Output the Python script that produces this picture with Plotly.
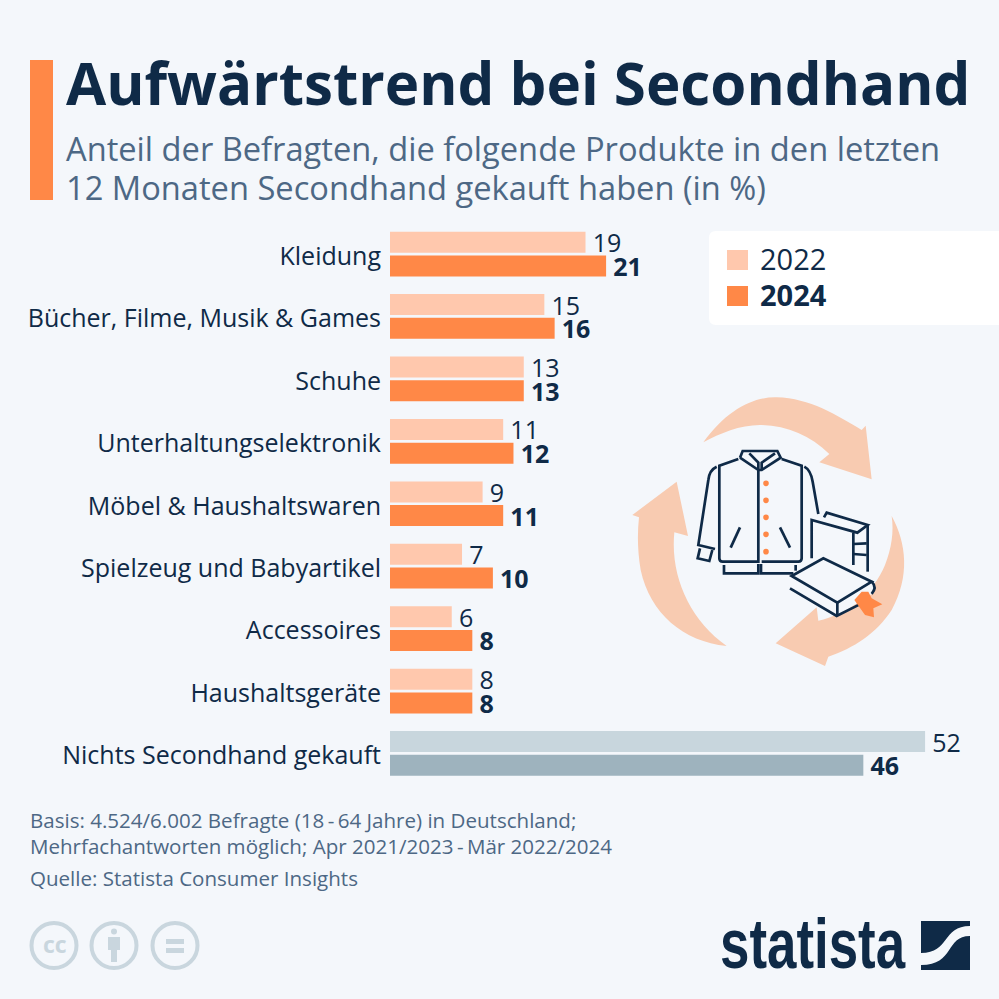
import plotly.graph_objects as go

categories = ["Kleidung", "Bücher, Filme, Musik &amp; Games", "Schuhe", "Unterhaltungselektronik",
              "Möbel &amp; Haushaltswaren", "Spielzeug und Babyartikel", "Accessoires",
              "Haushaltsgeräte", "Nichts Secondhand gekauft"]
values_2022 = [19, 15, 13, 11, 9, 7, 6, 8, 52]
values_2024 = [21, 16, 13, 12, 11, 10, 8, 8, 46]

W = 999
BG = "#F4F7FB"
NAVY = "#0F2A47"
SLATE = "#4D6885"
ORANGE = "#FF8847"
LIGHT = "#FFC8AD"
GREY1 = "#C8D6DD"
GREY2 = "#9EB3BE"
ARROW = "#F8CBB1"
ICON = "#C9D6DE"
FONT = "Open Sans"

colors_2022 = [LIGHT] * 8 + [GREY1]
colors_2024 = [ORANGE] * 8 + [GREY2]

def px(x): return x / W
def py(y): return 1 - y / W

def path(cmds, sx=1.0, ox=0.0, oy=0.0):
    out = []
    for c in cmds:
        letter, pts = c[0], c[1:]
        parts = []
        for i in range(0, len(pts), 2):
            parts.append(f"{px(ox + pts[i] * sx):.5f},{py(oy + pts[i + 1] * sx):.5f}")
        out.append(letter + " ".join(parts))
    return " ".join(out)

shapes = []
def add_path(cmds, fill=None, line=None, lw=0, **kw):
    shapes.append(dict(type="path", xref="paper", yref="paper", path=path(cmds, **kw),
                       fillcolor=fill if fill else "rgba(0,0,0,0)",
                       line=dict(color=line if line else "rgba(0,0,0,0)", width=lw)))

def add_rect(x0, y0, x1, y1, fill):
    shapes.append(dict(type="rect", xref="paper", yref="paper", x0=px(x0), x1=px(x1), y0=py(y0), y1=py(y1),
                       fillcolor=fill, line=dict(width=0)))

def add_circle(cx, cy, r, fill=None, line=None, lw=0):
    shapes.append(dict(type="circle", xref="paper", yref="paper", x0=px(cx - r), x1=px(cx + r),
                       y0=py(cy + r), y1=py(cy - r),
                       fillcolor=fill if fill else "rgba(0,0,0,0)",
                       line=dict(color=line if line else "rgba(0,0,0,0)", width=lw)))

annotations = []
def text(x, y, s, size, color, bold=False, family=FONT, anchor="left"):
    annotations.append(dict(xref="paper", yref="paper", x=px(x), y=py(y), text=s, showarrow=False,
                            xanchor=anchor, yanchor="middle", borderpad=0, borderwidth=0,
                            font=dict(size=size, color=color, family=family, weight=700 if bold else 400)))

# accent + legend box
add_rect(30, 60, 53, 200, ORANGE)
add_path([("M", 999, 231), ("L", 716, 231), ("Q", 709, 231, 709, 238), ("L", 709, 318),
          ("Q", 709, 325, 716, 325), ("L", 999, 325), ("Z",)], fill="#FFFFFF")
add_rect(727, 250, 748, 270, LIGHT)
add_rect(727, 286, 748, 306, ORANGE)

# illustration, drawn in crop coordinates
Z = dict(sx=1 / 3, ox=620, oy=380)
add_path([("M", 250, 187), ("C", 320, 90, 400, 50, 470, 52), ("C", 570, 55, 650, 105, 725, 150), ("L", 737, 137),
          ("L", 755, 298), ("L", 598, 247), ("L", 628, 222), ("C", 570, 165, 500, 137, 420, 135),
          ("C", 360, 135, 300, 160, 250, 187), ("Z",)], fill=ARROW, **Z)
add_path([("M", 320, 798), ("C", 190, 785, 90, 700, 62, 570), ("C", 52, 510, 52, 460, 57, 412), ("L", 37, 405),
          ("L", 170, 305), ("L", 204, 468), ("L", 163, 457), ("C", 150, 590, 210, 720, 320, 798), ("Z",)],
         fill=ARROW, **Z)
add_path([("M", 815, 408), ("C", 860, 490, 870, 590, 815, 690), ("C", 770, 760, 700, 805, 625, 830), ("L", 615, 858),
          ("L", 467, 790), ("L", 590, 682), ("L", 595, 722), ("C", 680, 705, 760, 640, 795, 555),
          ("C", 815, 505, 822, 455, 815, 408), ("Z",)], fill=ARROW, **Z)
# front book face hides the arrow behind it
add_path([("M", 515, 588), ("L", 610, 535), ("L", 755, 605), ("Q", 772, 622, 755, 642), ("L", 650, 708), ("L", 510, 625), ("Z",)],
         fill=BG, **Z)

jacket = [
    [("M", 360, 233), ("L", 368, 213), ("L", 472, 213), ("L", 482, 233), ("L", 425, 270), ("L", 415, 270), ("L", 360, 233)],
    [("M", 388, 220), ("L", 415, 248), ("L", 415, 270)],
    [("M", 465, 220), ("L", 425, 248), ("L", 425, 270)],
    [("M", 355, 237), ("L", 298, 257), ("L", 298, 535), ("Q", 298, 545, 308, 545), ("L", 415, 545), ("L", 415, 270)],
    [("M", 485, 237), ("L", 545, 257), ("L", 545, 535), ("Q", 545, 545, 535, 545), ("L", 425, 545)],
    [("M", 312, 555), ("L", 312, 580), ("L", 415, 580), ("L", 415, 552)],
    [("M", 423, 552), ("L", 423, 580), ("L", 520, 580)],
    [("M", 527, 555), ("L", 527, 572)],
    [("M", 290, 260), ("Q", 268, 270, 265, 300), ("L", 235, 495), ("L", 285, 507)],
    [("M", 240, 505), ("L", 233, 535), ("L", 268, 543), ("L", 277, 510)],
    [("M", 553, 260), ("Q", 572, 270, 578, 305), ("L", 595, 402)],
    [("M", 360, 442), ("L", 332, 503)],
    [("M", 480, 442), ("L", 510, 503)],
    [("M", 575, 535), ("L", 575, 420), ("L", 712, 458), ("L", 743, 435), ("L", 620, 398), ("L", 612, 412)],
    [("M", 743, 435), ("L", 743, 575)],
    [("M", 700, 555), ("L", 700, 458)],
    [("M", 700, 492), ("L", 740, 490)],
    [("M", 700, 522), ("L", 740, 525)],
    [("M", 515, 588), ("L", 610, 535), ("L", 755, 605), ("L", 652, 668), ("Z",)],
    [("M", 510, 625), ("L", 650, 708), ("L", 725, 670)],
    [("M", 652, 668), ("L", 652, 708)],
    [("M", 755, 605), ("Q", 772, 622, 755, 642)],
]
for seg in jacket:
    add_path(seg, line=NAVY, lw=2.7, **Z)
for by in (310, 361, 412, 463, 515):
    add_circle(620 + 438 / 3, 380 + by / 3, 2.8, fill=ORANGE)
add_path([("M", 725, 635), ("L", 703, 660), ("L", 735, 705), ("L", 762, 712), ("L", 760, 685), ("L", 787, 673),
          ("L", 755, 655), ("L", 745, 635), ("Z",)], fill=ORANGE, **Z)

# licence icons
for cx in (54, 114, 175):
    add_circle(cx, 945.5, 22.5, line=ICON, lw=4)
add_circle(114, 931.5, 3, fill=ICON)
add_path([("M", 108, 937), ("L", 120, 937), ("L", 120, 950), ("L", 117, 950), ("L", 117, 962), ("L", 111, 962),
          ("L", 111, 950), ("L", 108, 950), ("Z",)], fill=ICON)
add_rect(166, 939, 184, 944, ICON)
add_rect(166, 948, 184, 953, ICON)
text(54.5, 944, "cc", 23, ICON, bold=True, anchor="center")

# logo mark
add_rect(921, 921, 970, 970, NAVY)
add_path([("M", 970, 926), ("C", 942, 926, 950, 953, 921, 953), ("L", 921, 965), ("C", 955, 965, 945, 936, 970, 936), ("Z",)],
         fill=BG)

# texts
text(66, 82, "Aufwärtstrend bei Secondhand", 58.3, NAVY, bold=True)
text(66, 148, "Anteil der Befragten, die folgende Produkte in den letzten", 32.65, SLATE)
text(66, 188, "12 Monaten Secondhand gekauft haben (in %)", 32.65, SLATE)
text(760, 258.5, "2022", 29, NAVY)
text(760, 294.5, "2024", 29, NAVY, bold=True)
text(30, 820, "Basis: 4.524/6.002 Befragte (18\u2009-\u200964 Jahre) in Deutschland;", 20.55, SLATE)
text(30, 846, "Mehrfachantworten möglich; Apr 2021/2023\u2009-\u2009Mär 2022/2024", 20.55, SLATE)
text(30, 878, "Quelle: Statista Consumer Insights", 20.55, SLATE)
text(812.5, 944, "statista", 70, NAVY, bold=True, family="Liberation Sans", anchor="center")

def bars(name, values, colors, weight):
    return go.Bar(name=name, y=categories, x=values, orientation="h", marker=dict(color=colors, line=dict(width=0)),
                  text=[f"\u2009{v}" for v in values], textposition="outside", cliponaxis=False, constraintext="none",
                  textfont=dict(family=FONT, size=25, color=NAVY, weight=weight), hoverinfo="skip")

fig = go.Figure([bars("2022", values_2022, colors_2022, 400), bars("2024", values_2024, colors_2024, 700)])
fig.update_layout(
    width=W, height=W, margin=dict(l=0, r=0, t=0, b=0, autoexpand=False), paper_bgcolor=BG, plot_bgcolor="rgba(0,0,0,0)",
    barmode="group", bargap=0.24, bargroupgap=0.115, showlegend=False, shapes=shapes, annotations=annotations,
    font=dict(family=FONT),
    xaxis=dict(domain=[390 / W, 1], range=[0, 609 / 10.29], visible=False, fixedrange=True),
    yaxis=dict(domain=[py(784.7), py(222.8)], range=[8.5, -0.5], type="category", showline=False, showgrid=False,
               ticks="", ticklabelstandoff=8, ticklabelshift=-2, tickfont=dict(family=FONT, size=25, color=NAVY), fixedrange=True),
)
post = """
document.body.style.margin = '0';
document.body.style.background = '%s';
document.querySelectorAll('.annotation-text').forEach(function (t) {
  if (t.textContent === 'statista') {
    t.setAttribute('textLength', '185');
    t.setAttribute('lengthAdjust', 'spacingAndGlyphs');
  }
});
""" % BG
fig.write_html("out.html", config=dict(displayModeBar=False), post_script=post)
